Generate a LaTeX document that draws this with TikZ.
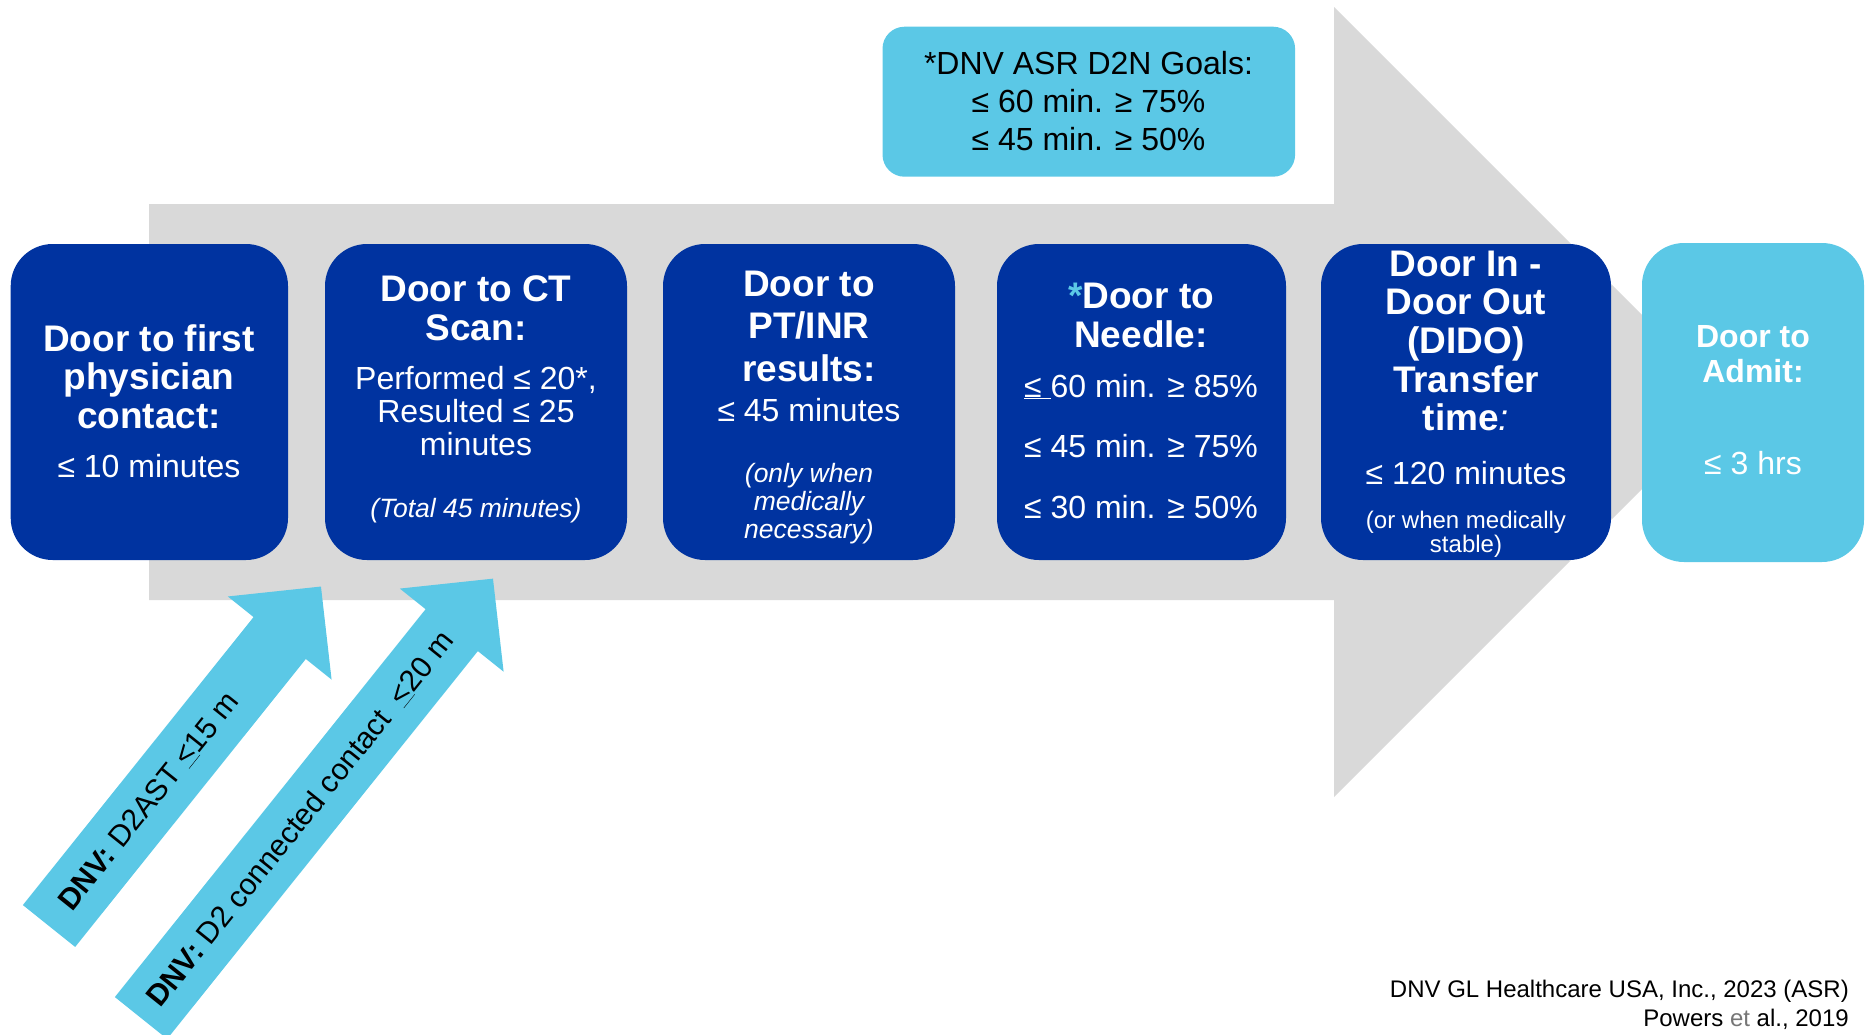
\documentclass[tikz,border=0pt]{standalone}
\usepackage{fontspec}
\setmainfont{Liberation Sans}
\definecolor{navy}{RGB}{0,51,160}
\definecolor{sky}{RGB}{91,200,230}
\definecolor{arrowgray}{RGB}{217,217,217}
\definecolor{etgray}{RGB}{118,118,118}
\begin{document}
\begin{tikzpicture}[x=1pt,y=-1pt,
  stagebox/.style={rectangle, fill=navy, draw=none, rounded corners=42pt, inner sep=0pt},
  admitbox/.style={rectangle, fill=sky, draw=none, rounded corners=42pt, inner sep=0pt},
  goalbox/.style={rectangle, fill=sky, draw=none, rounded corners=22pt, inner sep=0pt},
  block/.style={anchor=base, inner sep=0pt, text width=270pt, align=flush center},
  ttl/.style={block, text=white, font=\fontsize{37}{#1}\selectfont\bfseries},
  val/.style={block, text=white, font=\fontsize{32}{#1}\selectfont},
  nte/.style={block, text=white, font=\fontsize{26.5}{#1}\selectfont\itshape},
  sml/.style={block, text=white, font=\fontsize{24}{#1}\selectfont},
  goal/.style={block, text width=400pt, text=black, font=\fontsize{32}{#1}\selectfont},
  cite/.style={anchor=base east, inner sep=0pt, text width=600pt, align=flush right,
    text=black, font=\fontsize{24}{29.5}\selectfont},
  dnv/.style={anchor=center, inner sep=0pt, text=black, font=\fontsize{30}{32}\selectfont},
  pointer/.style={fill=sky, draw=none}
]
\useasboundingbox (0,0) rectangle (1866,1034);
\clip (0,0) rectangle (1866,1034);

% big grey process arrow
\fill[arrowgray] (149,204) -- (1334,204) -- (1334,7) -- (1729,402)
  -- (1334,797) -- (1334,600) -- (149,600) -- cycle;

% stage boxes
\node[stagebox, minimum width=277.3pt, minimum height=316pt] (b1) at (149.35,402) {};
\node[stagebox, minimum width=302pt, minimum height=316pt] (b2) at (476,402) {};
\node[stagebox, minimum width=292pt, minimum height=316pt] (b3) at (809,402) {};
\node[stagebox, minimum width=289pt, minimum height=316pt] (b4) at (1141.5,402) {};
\node[stagebox, minimum width=290pt, minimum height=316pt] (b5) at (1466,402) {};
\node[admitbox, minimum width=222pt, minimum height=319pt] (b6) at (1753,402.5) {};

% goals box
\node[goalbox, minimum width=412.6pt, minimum height=150pt] (g) at (1088.8,101.7) {};

% light blue pointers with their labels
\begin{scope}[shift={(49,926)}, rotate=51.3]
  \fill[pointer] (0,-33.5) -- (369,-33.5) -- (369,-66.5) -- (435,0)
    -- (369,66.5) -- (369,33.5) -- (0,33.5) -- cycle;
  \node[dnv, rotate=51.3] (d1) at (160,0) {\textbf{DNV:} D2AST \underline{<}15 m};
\end{scope}
\begin{scope}[shift={(141,1018)}, rotate=51.3]
  \fill[pointer] (0,-33.5) -- (497,-33.5) -- (497,-66.5) -- (563,0)
    -- (497,66.5) -- (497,33.5) -- (0,33.5) -- cycle;
  \node[dnv, rotate=51.3] (d2) at (255,0) {\textbf{DNV:} D2 connected contact \ \underline{<}20 m};
\end{scope}

% stage 1
\node[ttl=38.5pt] (b1t) at (149,351) {Door to first\\physician\\contact:};
\node[val=34pt] (b1v) at (149,477.5) {≤ 10 minutes};

% stage 2
\node[ttl=39pt] (b2t) at (476,301) {Door to CT\\Scan:};
\node[val=33pt] (b2v) at (476,389.5) {Performed ≤ 20*,\\Resulted ≤ 25\\minutes};
\node[nte=28pt] (b2n) at (476,517) {(Total 45 minutes)};

% stage 3
\node[ttl=42.3pt] (b3t) at (809,296.5) {Door to\\PT/INR\\results:};
\node[val=34pt] (b3v) at (809,421.5) {≤ 45 minutes};
\node[nte=27.8pt] (b3n) at (809,482.5) {(only when\\medically\\necessary)};

% stage 4
\node[ttl=38.5pt] (b4t) at (1141,308.5) {\textcolor{sky}{*}Door to\\Needle:};
\node[val=60.5pt] (b4v) at (1141,397) {\underline{≤\ }60 min. ≥ 85\%\\≤ 45 min. ≥ 75\%\\≤ 30 min. ≥ 50\%};

% stage 5
\node[ttl=38.7pt] (b5t) at (1466,276) {Door In -\\Door Out\\(DIDO)\\Transfer\\time{\mdseries\itshape :}};
\node[val=34pt] (b5v) at (1466,484.5) {≤ 120 minutes};
\node[sml=24pt] (b5n) at (1466,528) {(or when medically\\stable)};

% stage 6
\node[val=35pt, font=\fontsize{32}{35}\selectfont\bfseries] (b6t) at (1753,347.7) {Door to\\Admit:};
\node[val=34pt] (b6v) at (1753,474) {≤ 3 hrs};

% goals
\node[goal=37.9pt] (gt) at (1088.5,74.3) {*DNV ASR D2N Goals:\\≤ 60 min. ≥ 75\%\\≤ 45 min. ≥ 50\%};

% references
\node[cite] (refs) at (1849,997) {DNV GL Healthcare USA, Inc., 2023 (ASR)\\Powers \textcolor{etgray}{et} al., 2019};
\end{tikzpicture}
\end{document}
